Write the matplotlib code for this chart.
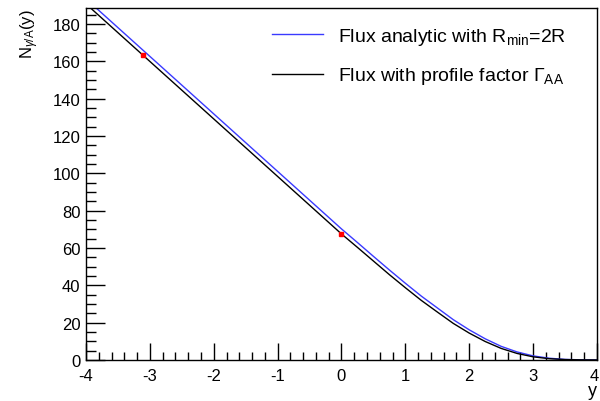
import matplotlib
matplotlib.use("Agg")
import matplotlib.pyplot as plt
import matplotlib.transforms as mtransforms
from matplotlib.ticker import MultipleLocator

plt.rcParams['font.family'] = ['Liberation Sans', 'DejaVu Sans']
plt.rcParams['mathtext.fontset'] = 'custom'
plt.rcParams['mathtext.rm'] = 'Liberation Sans'
plt.rcParams['mathtext.it'] = 'Liberation Sans:italic'
plt.rcParams['axes.unicode_minus'] = False

# rapidity grid and photon flux values
rapidity = [-4.0, -3.5, -3.0, -2.5, -2.0, -1.5, -1.0, -0.5, 0.0,
            0.25, 0.5, 0.75, 1.0, 1.25, 1.5, 1.75, 2.0, 2.25, 2.5,
            2.75, 3.0, 3.25, 3.5, 3.75, 4.0]
flux_analytic = [193.4, 178.0, 162.6, 147.2, 131.8, 116.4, 101.0, 85.6, 70.2,
                 62.9, 55.5, 48.2, 41.1, 34.2, 27.9, 21.6, 16.15, 11.35, 7.3,
                 4.3, 2.2, 0.96, 0.31, 0.09, 0.02]
flux_profile = [190.7, 175.3, 159.9, 144.5, 129.1, 113.7, 98.3, 82.9, 67.5,
                60.3, 53.0, 45.7, 38.7, 31.9, 25.7, 19.6, 14.4, 9.9, 6.2,
                3.5, 1.7, 0.7, 0.23, 0.07, 0.01]

# marked points on the profile-factor curve
marker_y = [-3.11, 0.0]
marker_n = [163.3, 67.5]

fig = plt.figure(figsize=(6.0, 4.02), dpi=100)
ax = fig.add_axes([0.1433, 0.102, 0.8517, 0.8756])

ax.plot(rapidity, flux_analytic, color='#3a3aff', lw=1.0,
        label=r'Flux analytic with R$_{\rm min}$=2R')
ax.plot(rapidity, flux_profile, color='black', lw=1.0,
        label=r'Flux with profile factor $\Gamma_{\rm AA}$')
ax.plot(marker_y, marker_n, ls='none', marker='s', ms=3, color='red', mec='red')

ax.set_xlim(-4, 4)
ax.set_ylim(0, 188.5)

ax.xaxis.set_major_locator(MultipleLocator(1))
ax.xaxis.set_minor_locator(MultipleLocator(0.2))
ax.yaxis.set_major_locator(MultipleLocator(20))
ax.yaxis.set_minor_locator(MultipleLocator(5))

ax.tick_params(which='both', direction='in', top=False, right=False,
               width=1.0, labelsize=12)
ax.tick_params(axis='x', which='major', length=12, pad=6)
ax.tick_params(axis='x', which='minor', length=6)
ax.tick_params(axis='y', which='major', length=14, pad=4)
ax.tick_params(axis='y', which='minor', length=7)
for sp in ax.spines.values():
    sp.set_linewidth(1.0)

fig.text(0.05, 0.978, r'N$_{\gamma\rm /A}$(y)', rotation=90, ha='center',
         va='top', fontsize=12)
fig.text(0.995, 0.005, 'y', ha='right', va='bottom', fontsize=13)

ax.legend(loc='upper left', bbox_to_anchor=(272 / 600, 1 - 27 / 402),
          bbox_transform=fig.transFigure, frameon=False,
          fontsize=14, handlelength=2.6, handletextpad=0.8, labelspacing=0.95,
          borderpad=0.0, borderaxespad=0.0)

# keep the rightmost x tick label inside the canvas
fig.canvas.draw()
last_label = ax.xaxis.get_major_ticks()[-1].label1
if last_label.get_text() == '4':
    nudge = mtransforms.ScaledTranslation(-3 / 100, 0, fig.dpi_scale_trans)
    last_label.set_transform(last_label.get_transform() + nudge)
else:
    for tick in ax.xaxis.get_major_ticks():
        if tick.label1.get_text() == '4':
            nudge = mtransforms.ScaledTranslation(-3 / 100, 0, fig.dpi_scale_trans)
            tick.label1.set_transform(tick.label1.get_transform() + nudge)

fig.savefig('out.png', dpi=100)
